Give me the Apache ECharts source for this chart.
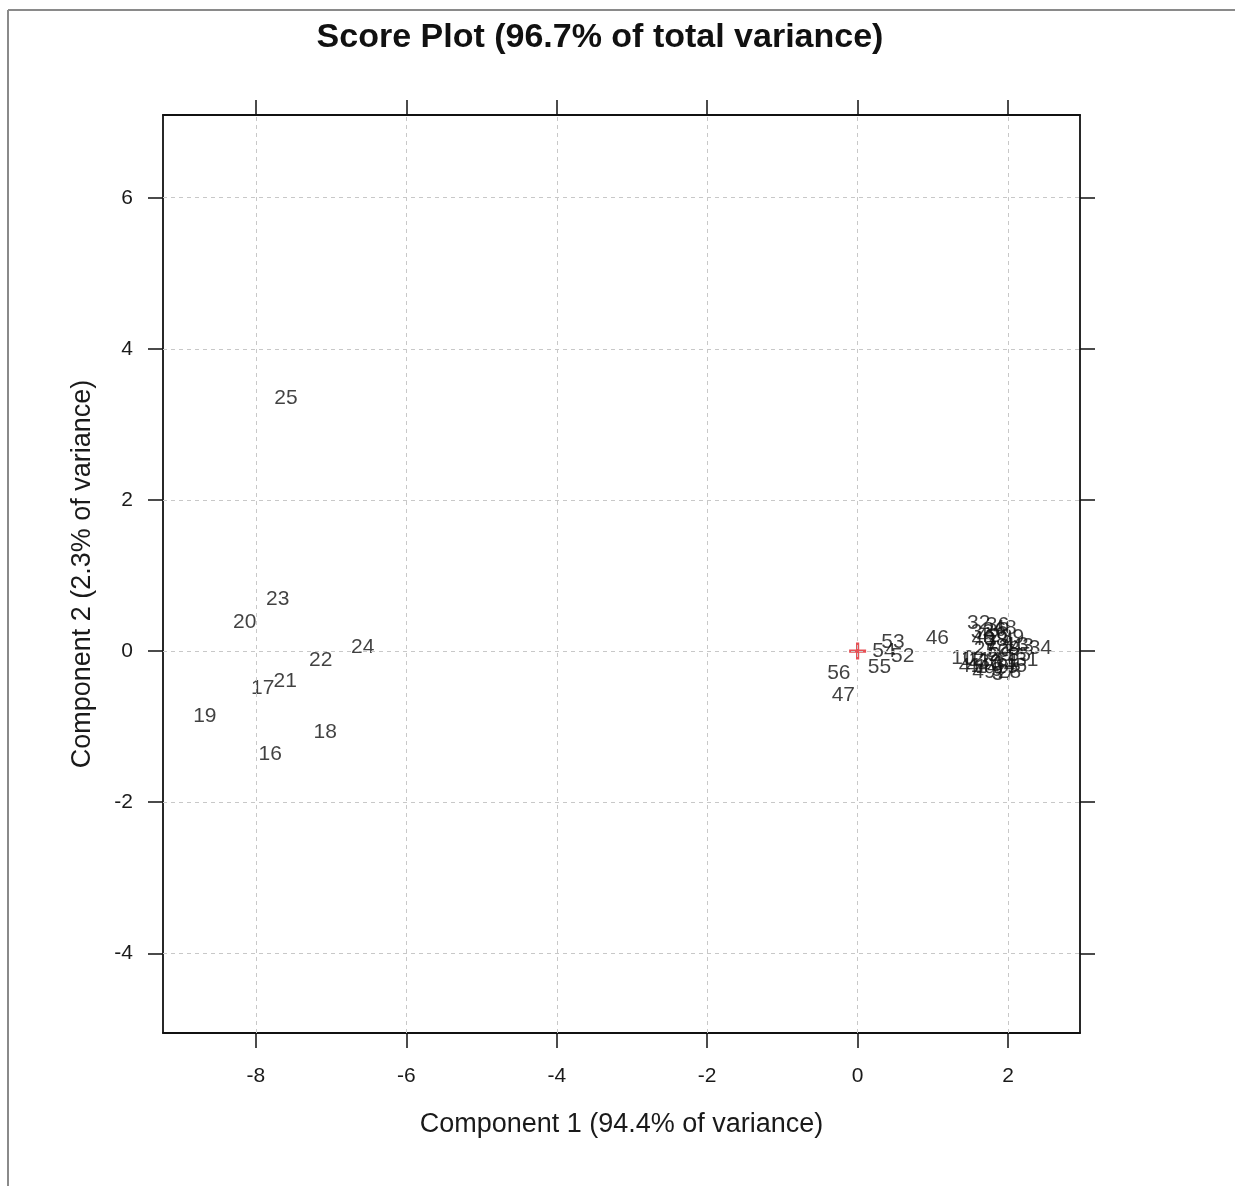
<!DOCTYPE html>
<html>
<head>
<meta charset="utf-8">
<script src="https://cdn.jsdelivr.net/npm/echarts@6/dist/echarts.min.js"></script>
<style>
html,body{margin:0;padding:0;background:#fff;}
#c{width:1235px;height:1186px;}
</style>
</head>
<body>
<div id="c"></div>
<script>
// ---- data ----
const titleText = 'Score Plot (96.7% of total variance)';
const xName = 'Component 1 (94.4% of variance)';
const yName = 'Component 2 (2.3% of variance)';
const xTicks = [-8, -6, -4, -2, 0, 2];
const yTicks = [-4, -2, 0, 2, 4, 6];
const xRange = [-9.236, 2.957];
const yRange = [-5.055, 7.095];

const names = ['25','23','20','24','22','21','17','19','18','16',
  '56','47','54','53','52','55','46',
  '32','36','34','31','10','12','41','43','40',
  '1','2','3','4','5','6','7','8','9','11','13','14','15',
  '26','27','28','29','30','33','35','37','38','39','42','44','45','48','49','50','51'];
const comp1 = [-7.60,-7.71,-8.15,-6.58,-7.14,-7.61,-7.91,-8.68,-7.08,-7.81,
  -0.25,-0.19,0.35,0.47,0.60,0.29,1.06,
  1.61,1.86,2.43,2.25,1.40,1.53,1.50,2.19,1.67,
  2.05,1.95,1.88,2.00,1.80,1.92,1.78,2.08,1.85,1.62,2.12,1.72,1.98,
  1.82,1.70,2.02,1.90,1.76,1.66,2.15,1.94,1.84,2.06,1.74,1.60,2.10,1.96,1.68,1.86,2.00];
const comp2 = [3.35,0.69,0.38,0.05,-0.12,-0.40,-0.49,-0.86,-1.08,-1.37,
  -0.29,-0.59,0.00,0.12,-0.07,-0.21,0.17,
  0.37,0.34,0.04,-0.12,-0.09,-0.11,-0.20,0.07,0.16,
  -0.10,0.05,-0.18,0.12,-0.05,0.22,0.10,0.02,-0.25,-0.12,0.08,-0.22,-0.22,
  0.28,0.02,-0.28,-0.05,-0.15,0.25,-0.06,-0.30,0.15,0.18,0.20,-0.20,-0.20,0.30,-0.28,0.00,-0.14];
const origin = [0, 0];

// ---- chart ----
const chart = echarts.init(document.getElementById('c'), null, {renderer: 'canvas'});
const FONT = 'Liberation Sans, Arial, sans-serif';
const axisLineStyle = {color: '#111', width: 1.8};
const tickStyle = {color: '#111', width: 1.5};

function mkX(pos, labels) {
  return {
    type: 'value', position: pos, min: xRange[0], max: xRange[1],
    axisLine: {show: true, onZero: false, lineStyle: axisLineStyle},
    axisTick: {show: true, length: 15, customValues: xTicks, lineStyle: tickStyle},
    axisLabel: {show: labels, customValues: xTicks, margin: 33, fontSize: 21, color: '#1a1a1a', fontFamily: FONT},
    splitLine: {show: false},
    name: labels ? xName : '', nameLocation: 'middle', nameGap: 78,
    nameTextStyle: {fontSize: 27, color: '#1a1a1a', fontFamily: FONT}
  };
}
function mkY(pos, labels) {
  return {
    type: 'value', position: pos, min: yRange[0], max: yRange[1],
    axisLine: {show: true, onZero: false, lineStyle: axisLineStyle},
    axisTick: {show: true, length: 15, customValues: yTicks, lineStyle: tickStyle},
    axisLabel: {show: labels, customValues: yTicks, margin: 30, fontSize: 21, color: '#1a1a1a', fontFamily: FONT},
    splitLine: {show: false},
    name: labels ? yName : '', nameLocation: 'middle', nameGap: 67,
    nameTextStyle: {fontSize: 27, color: '#1a1a1a', fontFamily: FONT}
  };
}

const labelData = names.map((n, i) => [comp1[i], comp2[i], n]);
const gridLines = xTicks.map(v => ({xAxis: v})).concat(yTicks.map(v => ({yAxis: v})));

chart.setOption({
  animation: false,
  backgroundColor: '#fff',
  grid: {left: 163, top: 115, right: 155, bottom: 153, show: false},
  xAxis: [mkX('bottom', true), mkX('top', false)],
  yAxis: [mkY('left', true), mkY('right', false)],
  graphic: [
    {type: 'line', shape: {x1: 8, y1: 10, x2: 1235, y2: 10}, style: {stroke: '#8a8a8a', lineWidth: 2}},
    {type: 'line', shape: {x1: 8, y1: 10, x2: 8, y2: 1186}, style: {stroke: '#8a8a8a', lineWidth: 2}},
    {type: 'text', x: 600, y: 38, style: {text: titleText, fill: '#111', font: 'bold 34px ' + FONT, textAlign: 'center', textVerticalAlign: 'middle'}}
  ],
  series: [
    {
      type: 'scatter', xAxisIndex: 0, yAxisIndex: 0,
      symbolSize: 1, itemStyle: {color: 'rgba(0,0,0,0)'},
      data: labelData,
      label: {show: true, position: 'inside', formatter: p => p.data[2], fontSize: 21, color: '#111', fontFamily: FONT},
      markLine: {
        silent: true, symbol: ['none', 'none'], animation: false,
        label: {show: false},
        lineStyle: {type: [4, 4], color: '#c8c8c8', width: 1},
        emphasis: {disabled: true},
        data: gridLines
      },
      z: 3
    },
    {
      type: 'scatter', xAxisIndex: 0, yAxisIndex: 0,
      symbol: 'path://M-1.5,-8 L1.5,-8 L1.5,-1.5 L8,-1.5 L8,1.5 L1.5,1.5 L1.5,8 L-1.5,8 L-1.5,1.5 L-8,1.5 L-8,-1.5 L-1.5,-1.5 Z',
      symbolSize: 17, itemStyle: {color: '#e0242a'},
      data: [origin], z: 4
    }
  ]
});
</script>
</body>
</html>
